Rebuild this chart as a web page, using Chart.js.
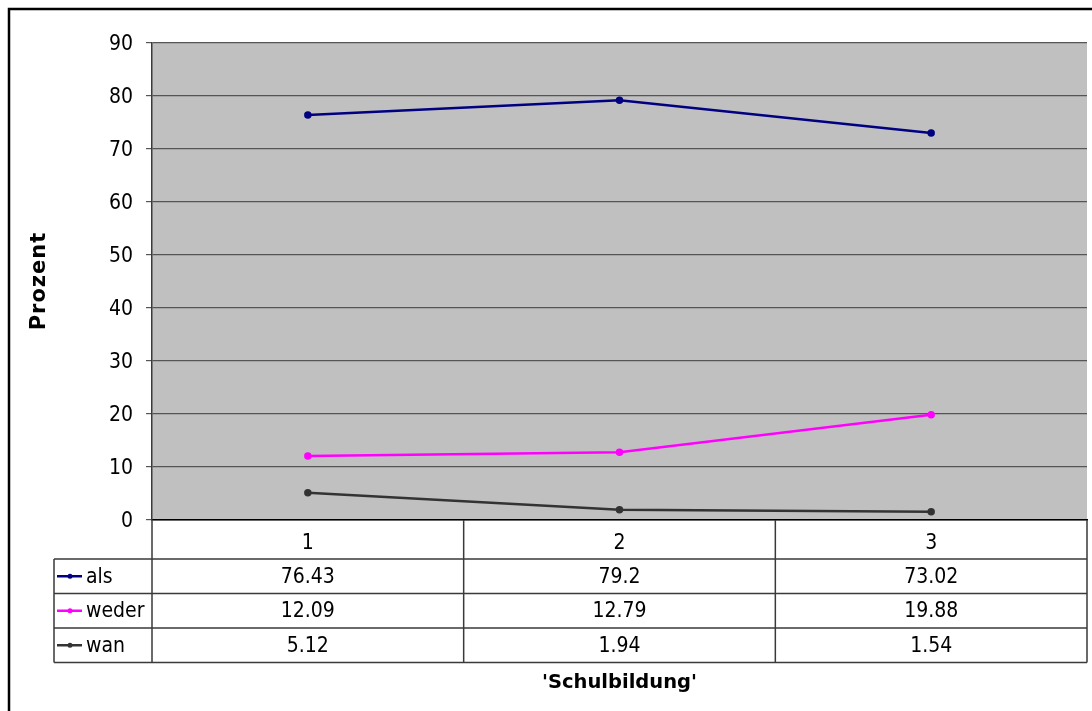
<!DOCTYPE html>
<html>
<head>
<meta charset="utf-8">
<script src="https://cdn.jsdelivr.net/npm/chart.js@4/dist/chart.umd.min.js"></script>
<style>
  html, body { margin: 0; padding: 0; background: #ffffff; }
  #wrap { position: relative; width: 1092px; height: 711px; }
</style>
</head>
<body>
<div id="wrap"><canvas id="c" width="1092" height="711"></canvas></div>
<script>
// Schulbildung categories and the three answer shares (Prozent)
const categories = ['1', '2', '3'];
const seriesNames = ['als', 'weder', 'wan'];
const alsValues = [76.43, 79.2, 73.02];
const wederValues = [12.09, 12.79, 19.88];
const wanValues = [5.12, 1.94, 1.54];
const tableLabels = [['76.43', '79.2', '73.02'], ['12.09', '12.79', '19.88'], ['5.12', '1.94', '1.54']];
const seriesColors = ['#000080', '#FF00FF', '#333333'];
const yTitle = 'Prozent';
const xTitle = "'Schulbildung'";

const FONT = "'DejaVu Sans Condensed', 'DejaVu Sans', sans-serif";
const TITLE_FONT = "'DejaVu Sans', sans-serif";

// Gray plot background and outer frame
const backdrop = {
  id: 'backdrop',
  beforeDraw(chart) {
    const { ctx, chartArea: a } = chart;
    ctx.save();
    ctx.fillStyle = '#C0C0C0';
    ctx.fillRect(a.left, a.top, a.right - a.left, a.bottom - a.top);
    ctx.strokeStyle = '#000000';
    ctx.lineWidth = 2.5;
    ctx.beginPath();
    ctx.moveTo(9, 711);
    ctx.lineTo(9, 9);
    ctx.lineTo(1092, 9);
    ctx.stroke();
    ctx.restore();
  }
};

// Data table under the plot: legend keys in the first column, one column per category
const dataTable = {
  id: 'dataTable',
  afterDraw(chart) {
    const { ctx, chartArea: a } = chart;
    const xs = chart.scales.x;
    const centers = categories.map((_, i) => xs.getPixelForValue(i));
    const half = (centers[1] - centers[0]) / 2;
    const bounds = [centers[0] - half].concat(centers.map(c => c + half));
    const keyLeft = 54;
    const headTop = a.bottom;
    const rowTop = 559;
    const rowH = 34.5;
    const rows = seriesNames.length;
    const tableBottom = rowTop + rows * rowH;

    ctx.save();
    ctx.strokeStyle = '#3a3a3a';
    ctx.lineWidth = 1.5;
    ctx.beginPath();
    for (let r = 0; r <= rows; r++) {
      const y = rowTop + r * rowH;
      ctx.moveTo(keyLeft, y);
      ctx.lineTo(bounds[bounds.length - 1], y);
    }
    ctx.moveTo(keyLeft, rowTop);
    ctx.lineTo(keyLeft, tableBottom);
    bounds.forEach(x => {
      ctx.moveTo(x, headTop);
      ctx.lineTo(x, tableBottom);
    });
    ctx.stroke();

    ctx.font = '21px ' + FONT;
    ctx.textBaseline = 'middle';
    for (let r = 0; r < rows; r++) {
      const yMid = rowTop + r * rowH + rowH / 2;
      ctx.strokeStyle = seriesColors[r];
      ctx.fillStyle = seriesColors[r];
      ctx.lineWidth = 2.5;
      ctx.beginPath();
      ctx.moveTo(57, yMid);
      ctx.lineTo(82, yMid);
      ctx.stroke();
      ctx.beginPath();
      ctx.arc(70, yMid, 2.5, 0, Math.PI * 2);
      ctx.fill();
      ctx.fillStyle = '#000000';
      ctx.textAlign = 'left';
      ctx.fillText(seriesNames[r], 86, yMid + 1);
      ctx.textAlign = 'center';
      tableLabels[r].forEach((t, i) => ctx.fillText(t, centers[i], yMid + 1));
    }

    // Rotated value-axis title
    ctx.save();
    ctx.translate(45, (a.top + a.bottom) / 2);
    ctx.rotate(-Math.PI / 2);
    ctx.font = 'bold 21px ' + TITLE_FONT;
    ctx.letterSpacing = '1px';
    ctx.textAlign = 'center';
    ctx.textBaseline = 'alphabetic';
    ctx.fillStyle = '#000000';
    ctx.fillText(yTitle, 0.5, 0);
    ctx.restore();

    ctx.restore();
  }
};

const allValues = [alsValues, wederValues, wanValues];

new Chart(document.getElementById('c'), {
  type: 'line',
  data: {
    labels: categories,
    datasets: seriesNames.map((name, i) => ({
      label: name,
      data: allValues[i],
      borderColor: seriesColors[i],
      backgroundColor: seriesColors[i],
      borderWidth: 2.5,
      pointRadius: 2.5,
      pointHoverRadius: 2.5,
      tension: 0
    }))
  },
  options: {
    responsive: false,
    animation: false,
    layout: { padding: { left: 0, top: 43, right: 4, bottom: 0 } },
    plugins: { legend: { display: false }, tooltip: { enabled: false } },
    scales: {
      x: {
        offset: true,
        grid: { display: false, offset: true },
        border: { display: true, color: '#000000', width: 1.5 },
        ticks: { color: '#000000', font: { family: FONT, size: 21 }, padding: 3, maxRotation: 0 },
        title: { display: true, text: xTitle, color: '#000000', font: { family: TITLE_FONT, size: 19.5, weight: 'bold' }, padding: { top: 0, bottom: 16 } },
        afterFit(scale) { scale.height = 191; }
      },
      y: {
        min: 0,
        max: 90,
        ticks: { stepSize: 10, color: '#000000', font: { family: FONT, size: 21 }, padding: 13, labelOffset: 2 },
        grid: { color: '#555555', lineWidth: 1.2, tickLength: 6, tickColor: '#555555', drawTicks: true },
        border: { display: true, color: '#3a3a3a', width: 1.5 },
        title: { display: false },
        afterFit(scale) { scale.width = 152; }
      }
    }
  },
  plugins: [backdrop, dataTable]
});
</script>
</body>
</html>
